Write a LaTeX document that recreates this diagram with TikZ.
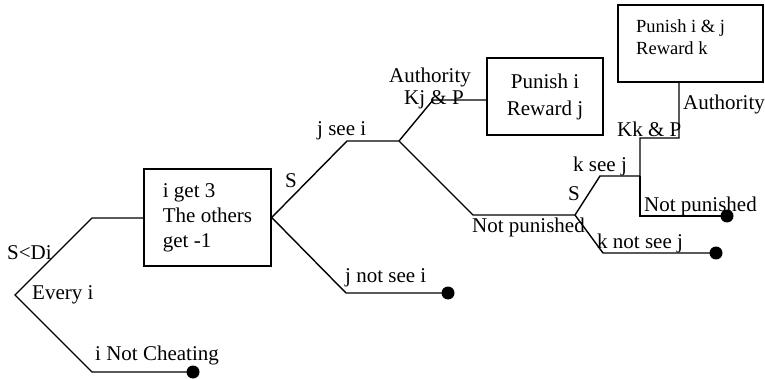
\documentclass[tikz,border=0pt]{standalone}
\usepackage{fontspec}
\setmainfont{Liberation Serif}
\begin{document}
\begin{tikzpicture}[x=1pt,y=-1pt,
  line/.style={line width=1.4pt},
  box/.style={draw,line width=1.4pt,rectangle,inner sep=0pt},
  lbl/.style={anchor=base west,inner sep=0pt,font=\fontsize{21}{25}\selectfont},
  lbls/.style={anchor=base west,inner sep=0pt,font=\fontsize{18.5}{21.5}\selectfont},
  dot/.style={circle,fill=black,inner sep=0pt,minimum size=13pt}]
\useasboundingbox (0,0) rectangle (765,379);
% boxes
\node[box,minimum width=127pt,minimum height=97pt,align=left,
      font=\fontsize{21}{25}\selectfont] (b1) at (207.5,217.5) {i get 3\\The others\\get -1};
\node[box,minimum width=116pt,minimum height=77pt,align=center,
      font=\fontsize{21}{27}\selectfont] (b2) at (545,96.5) {Punish i\\Reward j};
\node[box,minimum width=145pt,minimum height=77pt] (b3) at (690.5,43.5) {};
\node[lbls] (t3a) at (636,33) {Punish i \& j};
\node[lbls] (t3b) at (636,55) {Reward k};
% branch points
\coordinate (r) at (15,295);
\coordinate (a1) at (92,218);
\coordinate (a2) at (92,372);
\coordinate (j1) at (272,217);
\coordinate (c1) at (347,141);
\coordinate (c2) at (399,141);
\coordinate (c3) at (433,100);
\coordinate (c4) at (473,215);
\coordinate (c5) at (575,215);
\coordinate (c6) at (600,176);
\coordinate (c7) at (640,176);
\coordinate (c8) at (640,138);
\coordinate (c9) at (679,138);
\coordinate (c10) at (640,216);
\coordinate (c11) at (603,253);
\coordinate (c12) at (346,293);
% terminal dots
\node[dot] (d1) at (193,372) {};
\node[dot] (d2) at (448,293) {};
\node[dot] (d3) at (727,216) {};
\node[dot] (d4) at (716,253) {};
% connectors
\draw[line] (a1 -| b1.west) -- (a1) -- (r) -- (a2) -- (d1.center);
\draw[line] (b1.east) -- (c1) -- (c2) -- (c3) -- (c3 -| b2.west);
\draw[line] (b1.east) -- (c12) -- (d2.center);
\draw[line] (c2) -- (c4) -- (c5) -- (c6) -- (c7) -- (c8) -- (c9) -- (c9 |- b3.south);
\draw[line] (c7) -- (c10) -- (d3.center);
\draw[line] (c5) -- (c11) -- (d4.center);
% labels
\node[lbl] (l1) at (7,259) {S<Di};
\node[lbl] (l2) at (32,299) {Every i};
\node[lbl] (l3) at (95,360) {i Not Cheating};
\node[lbl] (l4) at (285,188) {S};
\node[lbl] (l5) at (317,136) {j see i};
\node[lbl] (l6) at (389,83) {Authority};
\node[lbl] (l7) at (404,105) {Kj \& P};
\node[lbl] (l8) at (345,282) {j not see i};
\node[lbl] (l9) at (472,233) {Not punished};
\node[lbl] (l10) at (568,201) {S};
\node[lbl] (l11) at (573,172) {k see j};
\node[lbl] (l12) at (617,137) {Kk \& P};
\node[lbl] (l13) at (683,110) {Authority};
\node[lbl] (l14) at (644,212) {Not punished};
\node[lbl] (l15) at (597,249) {k not see j};
\end{tikzpicture}
\end{document}
